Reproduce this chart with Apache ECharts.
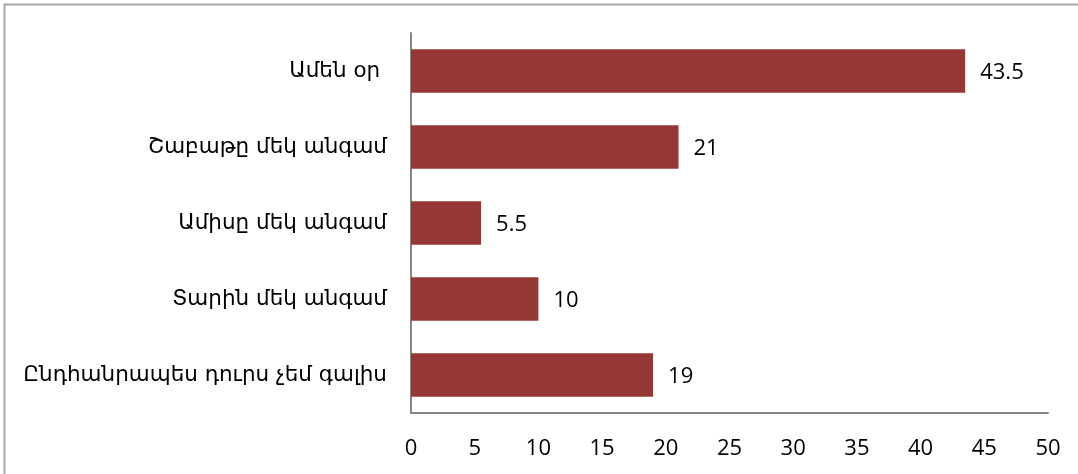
<!DOCTYPE html>
<html>
<head>
<meta charset="utf-8">
<script src="https://cdn.jsdelivr.net/npm/echarts@6/dist/echarts.min.js"></script>
<style>
html,body{margin:0;padding:0;background:#fff;}
#chart{width:1078px;height:474px;}
</style>
</head>
<body>
<div id="chart"></div>
<script>
const categories = ["Ամեն օր ", "Շաբաթը մեկ անգամ", "Ամիսը մեկ անգամ", "Տարին մեկ անգամ", "Ընդհանրապես դուրս չեմ գալիս"];
const values = [43.5, 21, 5.5, 10, 19];
const xTicks = [0, 5, 10, 15, 20, 25, 30, 35, 40, 45, 50];

const chart = echarts.init(document.getElementById('chart'), null, {renderer: 'canvas'});
chart.setOption({
  animation: false,
  backgroundColor: '#fff',
  graphic: [{
    type: 'rect', shape: {x: 4.5, y: 4.5, width: 1200, height: 600},
    style: {fill: 'none', stroke: '#a6a6a6', lineWidth: 2}, silent: true
  }],
  grid: {left: 411, right: 30, top: 33, height: 380},
  xAxis: {
    type: 'value', min: xTicks[0], max: xTicks[xTicks.length - 1], interval: 5,
    axisLine: {show: true, lineStyle: {color: '#868686', width: 2}},
    axisTick: {show: false},
    splitLine: {show: false},
    axisLabel: {margin: 25, color: '#000', fontFamily: 'Open Sans', fontSize: 22}
  },
  yAxis: {
    type: 'category', data: categories, inverse: true,
    axisLine: {show: true, lineStyle: {color: '#868686', width: 2}},
    axisTick: {show: false},
    axisLabel: {margin: 24, color: '#000', fontFamily: 'DejaVu Sans', fontSize: 21.5}
  },
  series: [{
    type: 'bar', data: values, barCategoryGap: '43%',
    itemStyle: {color: '#953735'},
    label: {show: true, position: 'right', distance: 15, offset: [0, 2], color: '#000',
      fontFamily: 'Open Sans', fontSize: 22}
  }]
});
</script>
</body>
</html>
